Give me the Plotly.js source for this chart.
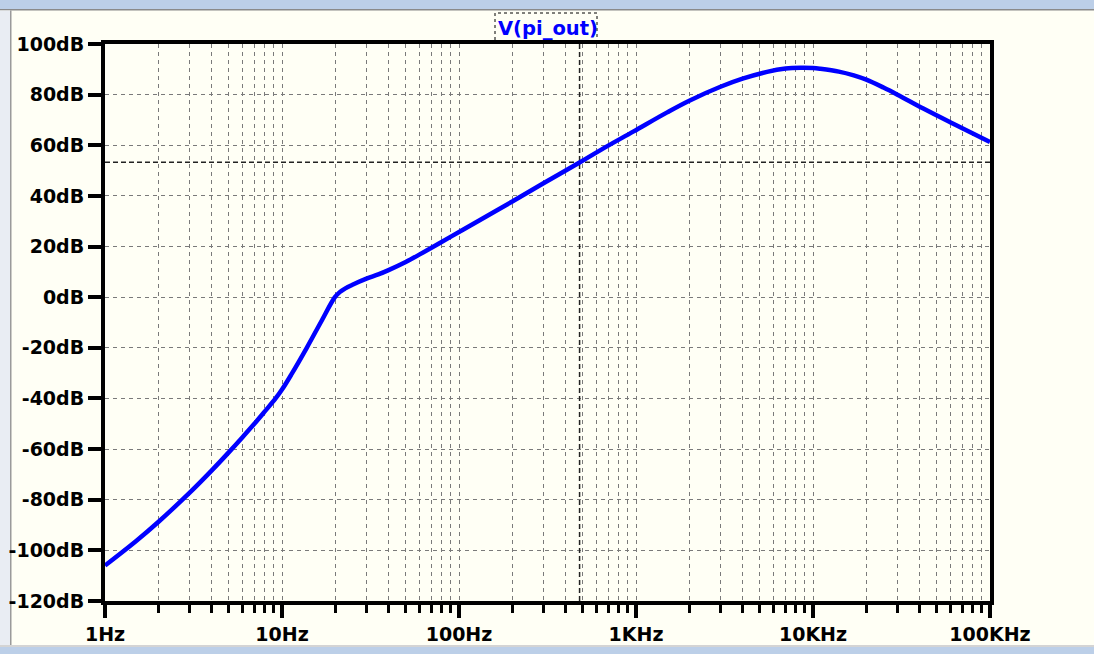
<!DOCTYPE html>
<html>
<head>
<meta charset="utf-8">
<script src="https://cdn.plot.ly/plotly-3.0.1.min.js"></script>
<style>
  html, body { margin: 0; padding: 0; background: #FFFFF5; }
  #chart { width: 1094px; height: 654px; }
</style>
</head>
<body>
<div id="chart"></div>
<script>
// ---- data (frequency in Hz, magnitude in dB) ----
const freqHz = [1, 1.5, 2, 3, 4, 5, 6, 7, 8, 9.2, 10, 11.3, 13.8, 16.6, 19.9, 21.2, 22.8, 25, 30, 35, 40, 50, 60, 90, 130, 200, 300, 480, 630, 970, 1500, 2000, 3000, 4000, 5500, 7000, 8500, 10000, 11000, 14000, 17000, 20000, 25000, 30000, 42000, 62000, 100000];
const magDb  = [-106, -96.3, -88.8, -77.3, -68.5, -61.3, -55.2, -49.9, -45.1, -40, -36.5, -30.5, -20, -9.8, 0, 2.0, 3.5, 4.9, 7.3, 9.0, 10.7, 13.9, 16.9, 23.9, 30.3, 37.8, 45.0, 53.2, 58.1, 65.5, 73.0, 77.6, 83.1, 86.3, 89.0, 90.3, 90.6, 90.5, 90.2, 89.1, 87.6, 85.9, 82.8, 80.0, 74.5, 68.5, 61.3];

// cursor position
const cursorFreq = 480;
const cursorDb = 53.3;

// tick labels
const xTickVals = [1, 10, 100, 1000, 10000, 100000];
const xTickText = ['1Hz', '10Hz', '100Hz', '1KHz', '10KHz', '100KHz'];
const yTickVals = [-120, -100, -80, -60, -40, -20, 0, 20, 40, 60, 80, 100];
const yTickText = ['-120dB', '-100dB', '-80dB', '-60dB', '-40dB', '-20dB', '0dB', '20dB', '40dB', '60dB', '80dB', '100dB'];
const traceName = 'V(pi_out)';

// minor tick positions (2..9 in every decade)
const minorVals = [];
for (let d = 0; d < 5; d++) for (let m = 2; m <= 9; m++) minorVals.push(m * Math.pow(10, d));

// ---- layout helpers (pixel -> paper) ----
const PL = 105, PR = 990, PT = 44, PB = 601;
const px = x => (x - PL) / (PR - PL);
const py = y => (PB - y) / (PB - PT);

const FONT = 'DejaVu Sans, Verdana, sans-serif';
const gridStyle = { showgrid: true, gridcolor: '#7a7a7a', gridwidth: 1, griddash: '4px,4px' };

const traces = [
  { x: [cursorFreq, cursorFreq], y: [-120, 100], mode: 'lines', line: { color: '#222', width: 1.5, dash: '5px,3px' }, hoverinfo: 'skip' },
  { x: [1, 100000], y: [cursorDb, cursorDb], mode: 'lines', line: { color: '#222', width: 1.5, dash: '5px,3px' }, hoverinfo: 'skip' },
  { x: freqHz, y: magDb, mode: 'lines', name: traceName, line: { color: '#0000FF', width: 4.5, shape: 'spline', smoothing: 1 } }
];

const layout = {
  width: 1094, height: 654,
  margin: { l: PL, r: 1094 - PR, t: PT, b: 654 - PB, pad: 0 },
  paper_bgcolor: '#FFFFF5',
  plot_bgcolor: '#FFFFF5',
  showlegend: false,
  hovermode: false,
  font: { family: FONT, size: 19, color: '#000' },
  xaxis: Object.assign({
    type: 'log', range: [0, 5], fixedrange: true,
    tickmode: 'array', tickvals: xTickVals, ticktext: xTickText,
    ticks: 'outside', ticklen: 13, tickwidth: 4, tickcolor: '#000',
    tickfont: { family: FONT, size: 19, color: '#000', weight: 'bold' },
    showline: true, mirror: true, linewidth: 4, linecolor: '#000',
    zeroline: false,
    minor: Object.assign({ tickmode: 'array', tickvals: minorVals, ticks: 'outside', ticklen: 8, tickwidth: 3, tickcolor: '#000' }, gridStyle)
  }, gridStyle),
  yaxis: Object.assign({
    range: [-120, 100], fixedrange: true,
    tickmode: 'array', tickvals: yTickVals, ticktext: yTickText,
    ticks: 'outside', ticklen: 13, tickwidth: 4, tickcolor: '#000',
    tickfont: { family: FONT, size: 19, color: '#000', weight: 'bold' },
    showline: true, mirror: true, linewidth: 4, linecolor: '#000',
    zeroline: false
  }, gridStyle),
  annotations: [{
    xref: 'paper', yref: 'paper', x: 0.5, y: py(28), xanchor: 'center', yanchor: 'middle',
    text: traceName, showarrow: false,
    font: { family: FONT, size: 19.5, color: '#0000FF', weight: 'bold' }
  }],
  shapes: [
    { type: 'rect', layer: 'below', xref: 'paper', yref: 'paper', x0: px(0), x1: px(1094), y0: py(9), y1: py(0), fillcolor: '#BCCFE8', line: { width: 0 } },
    { type: 'rect', layer: 'below', xref: 'paper', yref: 'paper', x0: px(0), x1: px(1094), y0: py(10.5), y1: py(9), fillcolor: '#8A8A8A', line: { width: 0 } },
    { type: 'rect', layer: 'below', xref: 'paper', yref: 'paper', x0: px(0), x1: px(10), y0: py(645), y1: py(10.5), fillcolor: '#E9EDF3', line: { width: 0 } },
    { type: 'rect', layer: 'below', xref: 'paper', yref: 'paper', x0: px(10), x1: px(11.5), y0: py(645), y1: py(10.5), fillcolor: '#9A9A9A', line: { width: 0 } },
    { type: 'rect', layer: 'below', xref: 'paper', yref: 'paper', x0: px(0), x1: px(1094), y0: py(647), y1: py(645), fillcolor: '#D4D4D4', line: { width: 0 } },
    { type: 'rect', layer: 'below', xref: 'paper', yref: 'paper', x0: px(0), x1: px(1094), y0: py(654), y1: py(647), fillcolor: '#BCCFE8', line: { width: 0 } },
    { type: 'rect', xref: 'paper', yref: 'paper', x0: px(495), x1: px(597), y0: py(43), y1: py(13), line: { color: '#000', width: 1, dash: 'dot' } }
  ]
};

Plotly.newPlot('chart', traces, layout, { staticPlot: true, displayModeBar: false });
</script>
</body>
</html>
